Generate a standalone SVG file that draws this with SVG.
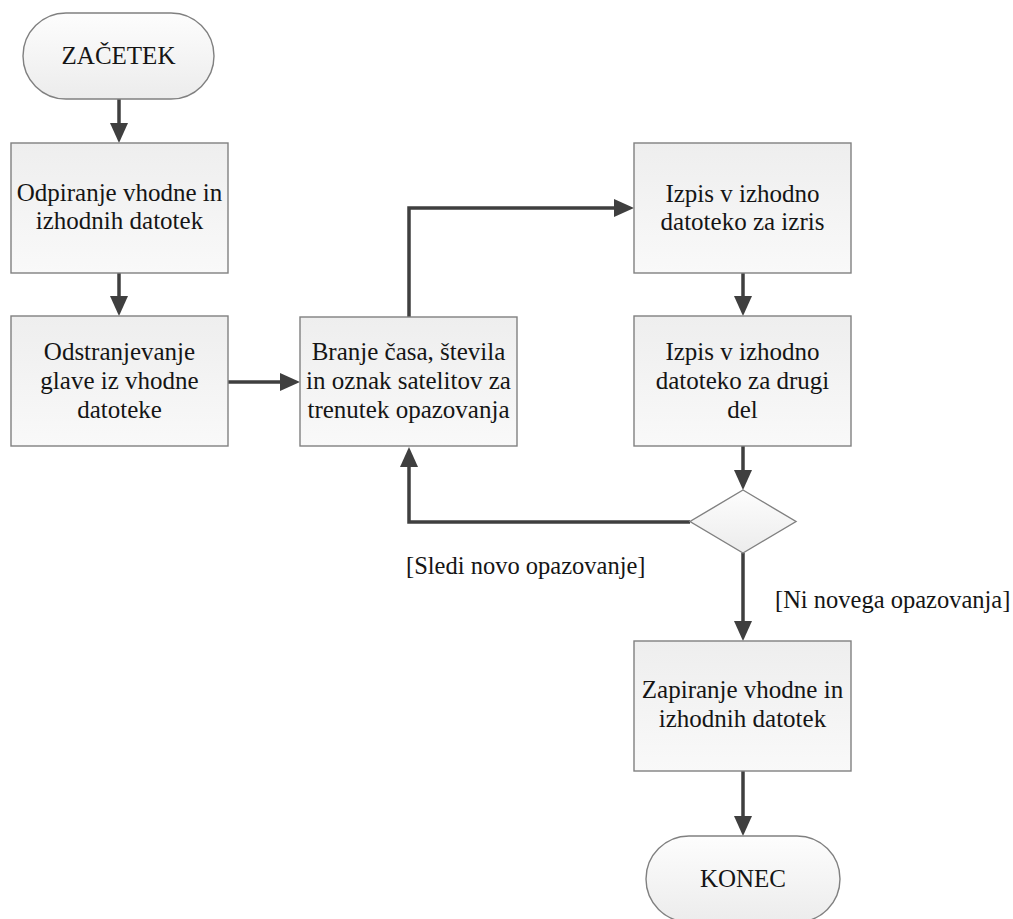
<svg xmlns="http://www.w3.org/2000/svg" width="1013" height="919" viewBox="0 0 1013 919">
  <defs>
    <linearGradient id="boxFill" x1="0" y1="0" x2="0" y2="1">
      <stop offset="0" stop-color="#eeeeee"/>
      <stop offset="1" stop-color="#f9f9f9"/>
    </linearGradient>
    <linearGradient id="roundFill" x1="0" y1="0" x2="0" y2="1">
      <stop offset="0" stop-color="#fdfdfd"/>
      <stop offset="1" stop-color="#ececec"/>
    </linearGradient>
    <marker id="arrow" markerUnits="userSpaceOnUse" markerWidth="20" markerHeight="18" refX="2" refY="9" orient="auto">
      <path d="M0,0 L20,9 L0,18 Z" fill="#3f3f3f"/>
    </marker>
    <style>
      .box { fill: url(#boxFill); stroke: #808080; stroke-width: 1.4; }
      .term { fill: url(#roundFill); stroke: #808080; stroke-width: 1.4; }
      .label { font-family: "Liberation Serif", "Times New Roman", serif; font-size: 25px; fill: #151515; text-anchor: middle; }
      .guard { font-family: "Liberation Serif", "Times New Roman", serif; font-size: 24.5px; fill: #151515; }
      .edge { fill: none; stroke: #3f3f3f; stroke-width: 3.5; marker-end: url(#arrow); }
    </style>
  </defs>

  <rect width="1013" height="919" fill="#ffffff"/>

  <!-- connectors and their guard labels -->
  <g id="connectors">
    <path class="edge" d="M119,99 V125"/>
    <path class="edge" d="M119,273 V298"/>
    <path class="edge" d="M227,382 H282"/>
    <path class="edge" d="M409,317 V208 H616"/>
    <path class="edge" d="M743,273 V298"/>
    <path class="edge" d="M743,446 V472"/>
    <path class="edge" d="M690,522 H409 V465"/>
    <path class="edge" d="M743,553 V623"/>
    <path class="edge" d="M743,771 V818"/>
    <text class="guard" x="406" y="574">[Sledi novo opazovanje]</text>
    <text class="guard" x="775" y="608">[Ni novega opazovanja]</text>
  </g>

  <!-- start -->
  <g id="start">
    <rect class="term" x="23" y="13" width="191" height="86" rx="43" ry="43"/>
    <text class="label" x="118.5" y="64">ZAČETEK</text>
  </g>

  <g id="open-files">
    <rect class="box" x="11" y="143" width="217" height="130"/>
    <text class="label" x="119.5" y="201">Odpiranje vhodne in</text>
    <text class="label" x="119.5" y="229">izhodnih datotek</text>
  </g>

  <g id="strip-header">
    <rect class="box" x="11" y="316" width="217" height="130"/>
    <text class="label" x="119.5" y="360">Odstranjevanje</text>
    <text class="label" x="119.5" y="389">glave iz vhodne</text>
    <text class="label" x="119.5" y="418">datoteke</text>
  </g>

  <g id="read-epoch">
    <rect class="box" x="300" y="317" width="217" height="129"/>
    <text class="label" x="408.5" y="360">Branje časa, števila</text>
    <text class="label" x="408.5" y="389">in oznak satelitov za</text>
    <text class="label" x="408.5" y="418">trenutek opazovanja</text>
  </g>

  <g id="write-plot">
    <rect class="box" x="634" y="143" width="217" height="130"/>
    <text class="label" x="742.5" y="202">Izpis v izhodno</text>
    <text class="label" x="742.5" y="230">datoteko za izris</text>
  </g>

  <g id="write-second">
    <rect class="box" x="634" y="316" width="217" height="130"/>
    <text class="label" x="742.5" y="360">Izpis v izhodno</text>
    <text class="label" x="742.5" y="389">datoteko za drugi</text>
    <text class="label" x="742.5" y="418">del</text>
  </g>

  <g id="decision">
    <polygon class="term" points="743,490 796,521.5 743,553 690,521.5"/>
  </g>

  <g id="close-files">
    <rect class="box" x="634" y="641" width="217" height="130"/>
    <text class="label" x="742.5" y="698">Zapiranje vhodne in</text>
    <text class="label" x="742.5" y="727">izhodnih datotek</text>
  </g>

  <!-- end -->
  <g id="end">
    <rect class="term" x="646" y="836" width="194" height="86" rx="43" ry="43"/>
    <text class="label" x="743" y="887">KONEC</text>
  </g>
</svg>
